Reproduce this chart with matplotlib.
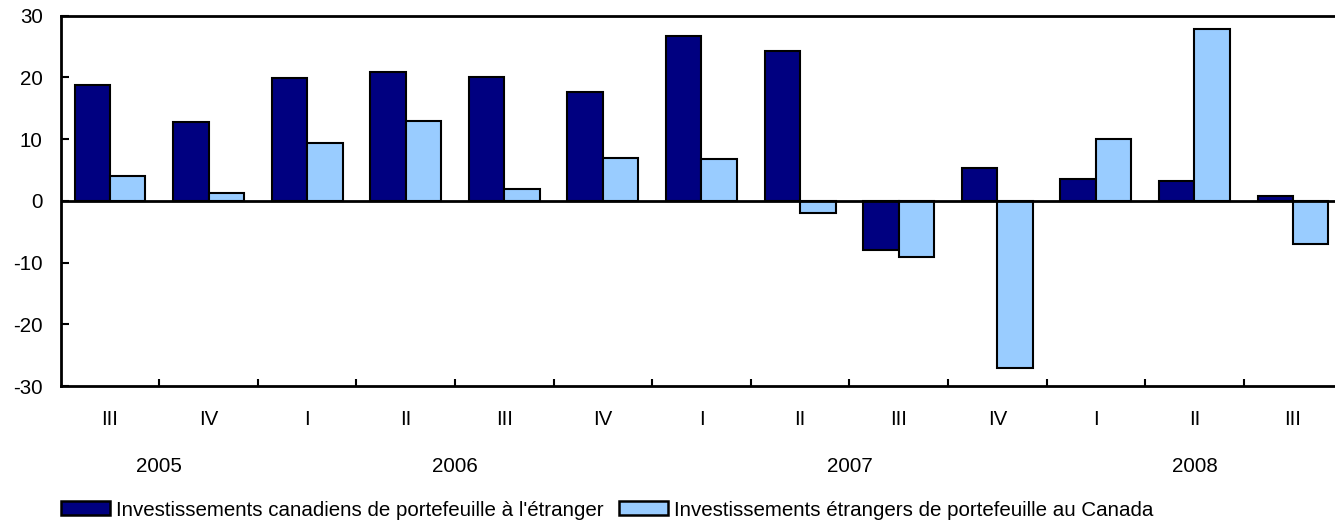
import matplotlib
matplotlib.use("Agg")
import matplotlib.pyplot as plt
from matplotlib.patches import Patch
import numpy as np

plt.rcParams['font.family'] = ['Liberation Sans', 'DejaVu Sans']
plt.rcParams['axes.unicode_minus'] = False

quarters = ["III", "IV", "I", "II", "III", "IV", "I", "II", "III", "IV", "I", "II", "III"]
years = ["2005", "2006", "2007", "2008"]
year_spans = [(0, 1), (2, 5), (6, 9), (10, 12)]  # category index ranges per year
canadian_abroad = [18.7, 12.7, 19.9, 20.8, 20.1, 17.6, 26.7, 24.2, -8.0, 5.4, 3.5, 3.2, 0.8]
foreign_in_canada = [4.1, 1.2, 9.4, 13.0, 2.0, 7.0, 6.7, -2.0, -9.1, -27.1, 10.0, 27.8, -7.0]
series_names = ["Investissements canadiens de portefeuille à l'étranger",
                "Investissements étrangers de portefeuille au Canada"]
colors = ["#000080", "#99CCFF"]

FS = 14.8
W, H = 1335, 522
fig = plt.figure(figsize=(W / 100, H / 100), dpi=100)
ax = fig.add_axes([60.7 / W, (H - 386) / H, 1281.6 / W, (386 - 15.7) / H])

x = np.arange(len(quarters))
bw = 0.36
ax.bar(x - bw / 2, canadian_abroad, bw, color=colors[0], edgecolor="black", linewidth=1.5, zorder=2)
ax.bar(x + bw / 2, foreign_in_canada, bw, color=colors[1], edgecolor="black", linewidth=1.5, zorder=2)
ax.axhline(0, color="black", linewidth=2, zorder=3)

ax.set_xlim(-0.5, len(quarters) - 0.5)
ax.set_ylim(-30, 30)
ax.set_yticks(np.arange(-30, 31, 10))
ax.tick_params(axis="y", direction="in", length=6, width=1.5, pad=13, labelsize=FS)

ax.set_xticks([])
ax.set_xticks(np.arange(0.5, len(quarters) - 0.5, 1), minor=True)
ax.tick_params(axis="x", which="minor", direction="in", length=5, width=1.5)

for s in ["left", "top", "bottom"]:
    ax.spines[s].set_linewidth(2)
ax.spines["right"].set_visible(False)

for xi, q in zip(x, quarters):
    ax.annotate(q, xy=(xi, 0), xycoords=("data", "axes fraction"), xytext=(0, -23.8),
                textcoords="offset points", ha="center", va="center", fontsize=FS)
for yr, (a, b) in zip(years, year_spans):
    ax.annotate(yr, xy=((a + b) / 2, 0), xycoords=("data", "axes fraction"), xytext=(0, -57.6),
                textcoords="offset points", ha="center", va="center", fontsize=FS)

handles = [Patch(facecolor=c, edgecolor="black", linewidth=1.8) for c in colors]
fig.legend(handles, series_names, loc="center left", bbox_to_anchor=(61 / W, (H - 510) / H),
           ncol=2, frameon=False, fontsize=FS, handlelength=2.4, handleheight=0.68,
           handletextpad=0.28, columnspacing=0.72, borderaxespad=0, borderpad=0)

fig.savefig("out.png", dpi=100)
